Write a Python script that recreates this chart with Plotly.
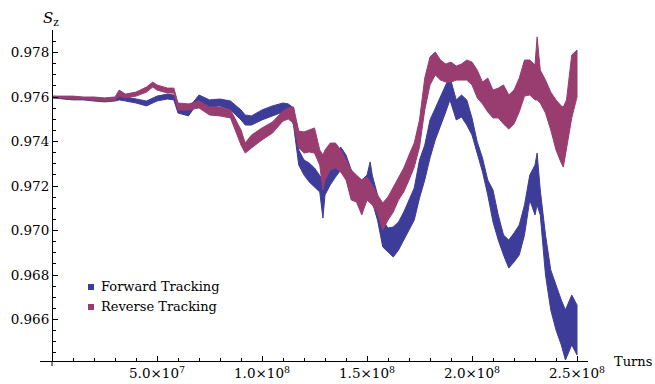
import plotly.graph_objects as go

# Spin component S_z vs. number of turns; each run is drawn as the envelope
# (upper / lower extent) of its rapidly oscillating trace.

fwd_turns_m = [0, 5, 10, 15, 20, 25, 30, 32, 35, 40, 45, 50, 55, 58, 60, 65, 70, 75, 80, 85,
               90, 92, 95, 100, 105, 110, 112.5, 115, 117.5, 120, 122.5, 125, 127.5, 129, 130,
               132.5, 135, 137.5, 140, 142.5, 145, 147.5, 150, 151.5, 152.5, 155, 157.5, 160,
               162.5, 165, 167.5, 170, 172.5, 175, 177.5, 180, 182.5, 185, 187.5, 189.5, 192.5,
               195, 197.5, 200, 202.5, 205, 207.5, 210, 212.5, 215, 217.5, 220, 222.5, 225,
               227.5, 230, 231, 232.5, 235, 237.5, 240, 242.5, 244.5, 247.5, 250]
fwd_hi = [0.97604, 0.97600, 0.97600, 0.97596, 0.97596, 0.97591, 0.97596, 0.97604, 0.97600,
          0.97591, 0.97582, 0.97604, 0.97613, 0.97609, 0.97560, 0.97551, 0.97609, 0.97587,
          0.97591, 0.97582, 0.97542, 0.97519, 0.97515, 0.97542, 0.97560, 0.97573, 0.97569,
          0.97551, 0.97362, 0.97317, 0.97303, 0.97281, 0.97249, 0.97227, 0.97249, 0.97294,
          0.97339, 0.97375, 0.97339, 0.97272, 0.97236, 0.97227, 0.97249, 0.97308, 0.97249,
          0.97160, 0.97047, 0.97011, 0.97016, 0.97038, 0.97083, 0.97137, 0.97191, 0.97317,
          0.97384, 0.97497, 0.97551, 0.97600, 0.97654, 0.97690, 0.97587, 0.97609, 0.97587,
          0.97506, 0.97398, 0.97326, 0.97227, 0.97182, 0.97070, 0.96980, 0.96957, 0.96989,
          0.97025, 0.97115, 0.97249, 0.97294, 0.97348, 0.97182, 0.96980, 0.96823, 0.96755,
          0.96688, 0.96643, 0.96710, 0.96665]
fwd_lo = [0.97596, 0.97591, 0.97587, 0.97587, 0.97582, 0.97578, 0.97582, 0.97587, 0.97582,
          0.97573, 0.97560, 0.97582, 0.97591, 0.97587, 0.97528, 0.97515, 0.97582, 0.97555,
          0.97560, 0.97542, 0.97497, 0.97474, 0.97474, 0.97497, 0.97515, 0.97533, 0.97533,
          0.97474, 0.97294, 0.97249, 0.97218, 0.97196, 0.97173, 0.97056, 0.97160, 0.97205,
          0.97240, 0.97272, 0.97249, 0.97182, 0.97160, 0.97151, 0.97137, 0.97160, 0.97137,
          0.97047, 0.96926, 0.96903, 0.96881, 0.96912, 0.96957, 0.97002, 0.97047, 0.97146,
          0.97227, 0.97326, 0.97407, 0.97474, 0.97533, 0.97587, 0.97497, 0.97510, 0.97474,
          0.97429, 0.97348, 0.97263, 0.97160, 0.97038, 0.96957, 0.96890, 0.96831, 0.96858,
          0.96890, 0.96980, 0.97137, 0.97070, 0.97115, 0.97070, 0.96800, 0.96643, 0.96553,
          0.96486, 0.96418, 0.96486, 0.96441]

rev_turns_m = [0, 5, 10, 15, 20, 25, 30, 32, 35, 40, 45, 48, 50, 55, 58, 60, 65, 70, 75, 80,
               85, 90, 92, 95, 100, 105, 110, 112.5, 115, 117.5, 120, 122.5, 125, 127.5, 129,
               130, 132.5, 135, 137.5, 140, 142.5, 145, 147.5, 150, 152.5, 155, 157.5, 160,
               162.5, 165, 167.5, 170, 172.5, 175, 177.5, 180, 182.5, 185, 187.5, 190, 192.5,
               195, 197.5, 200, 202.5, 205, 207.5, 210, 212.5, 215, 217.5, 220, 222.5, 225,
               227.5, 230, 231, 232.5, 235, 237.5, 240, 242.5, 243.5, 245, 247.5, 250]
rev_hi = [0.97604, 0.97604, 0.97604, 0.97600, 0.97600, 0.97596, 0.97600, 0.97631, 0.97613,
          0.97622, 0.97645, 0.97667, 0.97654, 0.97640, 0.97640, 0.97573, 0.97569, 0.97582,
          0.97555, 0.97555, 0.97542, 0.97452, 0.97393, 0.97429, 0.97461, 0.97488, 0.97537,
          0.97551, 0.97555, 0.97447, 0.97443, 0.97452, 0.97461, 0.97362, 0.97339, 0.97362,
          0.97393, 0.97393, 0.97362, 0.97317, 0.97272, 0.97249, 0.97227, 0.97240, 0.97205,
          0.97160, 0.97124, 0.97151, 0.97196, 0.97236, 0.97281, 0.97339, 0.97393, 0.97497,
          0.97685, 0.97780, 0.97802, 0.97766, 0.97748, 0.97757, 0.97739, 0.97748, 0.97766,
          0.97757, 0.97721, 0.97667, 0.97685, 0.97631, 0.97640, 0.97654, 0.97609, 0.97631,
          0.97685, 0.97766, 0.97766, 0.97744, 0.97870, 0.97721, 0.97676, 0.97622, 0.97587,
          0.97560, 0.97555, 0.97587, 0.97789, 0.97811]
rev_lo = [0.97596, 0.97596, 0.97591, 0.97591, 0.97587, 0.97582, 0.97587, 0.97604, 0.97596,
          0.97604, 0.97622, 0.97645, 0.97631, 0.97618, 0.97618, 0.97542, 0.97542, 0.97551,
          0.97519, 0.97515, 0.97506, 0.97384, 0.97348, 0.97371, 0.97407, 0.97438, 0.97492,
          0.97501, 0.97483, 0.97371, 0.97348, 0.97353, 0.97348, 0.97294, 0.97182, 0.97227,
          0.97272, 0.97281, 0.97263, 0.97227, 0.97137, 0.97128, 0.97070, 0.97137, 0.97115,
          0.97079, 0.97002, 0.97047, 0.97083, 0.97137, 0.97173, 0.97227, 0.97285, 0.97375,
          0.97542, 0.97654, 0.97699, 0.97676, 0.97667, 0.97667, 0.97676, 0.97676, 0.97676,
          0.97654, 0.97596, 0.97569, 0.97533, 0.97506, 0.97506, 0.97479, 0.97456, 0.97479,
          0.97533, 0.97604, 0.97609, 0.97587, 0.97587, 0.97573, 0.97528, 0.97452, 0.97362,
          0.97303, 0.97285, 0.97371, 0.97506, 0.97600]

series_names = ["Forward Tracking", "Reverse Tracking"]
series_colors = ["#3d3d99", "#993d71"]

x_tick_vals_m = [50, 100, 150, 200, 250]
x_tick_text = ["5.0×10<sup>7</sup>", "1.0×10<sup>8</sup>", "1.5×10<sup>8</sup>",
               "2.0×10<sup>8</sup>", "2.5×10<sup>8</sup>"]
y_tick_vals = [0.966, 0.968, 0.970, 0.972, 0.974, 0.976, 0.978]
y_tick_text = ["0.966", "0.968", "0.970", "0.972", "0.974", "0.976", "0.978"]

SERIF = "DejaVu Serif"
TICK_SIZE = 13.5

# plot area geometry (pixels) used to place annotations in paper coordinates
AREA_L, AREA_W, AREA_B, AREA_H = 40, 548, 361, 331


def px_x(px):
    return (px - AREA_L) / AREA_W


def px_y(py):
    return (AREA_B - py) / AREA_H


def band(turns_m, hi, lo, color, name):
    xs = [t * 1e6 for t in turns_m]
    return go.Scatter(
        x=xs + xs[::-1],
        y=hi + lo[::-1],
        fill="toself",
        fillcolor=color,
        mode="lines",
        line=dict(color=color, width=1),
        name=name,
        showlegend=False,
        hoverinfo="skip",
    )


fig = go.Figure()
fig.add_trace(band(fwd_turns_m, fwd_hi, fwd_lo, series_colors[0], series_names[0]))
fig.add_trace(band(rev_turns_m, rev_hi, rev_lo, series_colors[1], series_names[1]))

fig.update_layout(
    width=655,
    height=384,
    margin=dict(l=40, r=67, t=30, b=23, autoexpand=False),
    paper_bgcolor="white",
    plot_bgcolor="white",
    font=dict(family=SERIF, size=TICK_SIZE, color="black"),
    showlegend=False,
)

fig.update_xaxes(
    range=[-5.714e6, 255.24e6],
    automargin=False,
    showgrid=False,
    zeroline=False,
    showline=True,
    linecolor="black",
    linewidth=1,
    ticks="inside",
    ticklen=5,
    tickcolor="black",
    tickvals=[v * 1e6 for v in x_tick_vals_m],
    ticktext=x_tick_text,
    tickfont=dict(family=SERIF, size=TICK_SIZE, color="black"),
    minor=dict(ticks="inside", ticklen=3, tickcolor="black", tick0=0, dtick=1e7),
)

fig.update_yaxes(
    range=[0.964136, 0.979011],
    automargin=False,
    anchor="free",
    position=px_x(52),
    showgrid=False,
    zeroline=False,
    showline=True,
    linecolor="black",
    linewidth=1,
    ticks="inside",
    ticklen=5,
    tickcolor="black",
    tickvals=y_tick_vals,
    ticktext=y_tick_text,
    tickfont=dict(family=SERIF, size=TICK_SIZE, color="black"),
    minor=dict(ticks="inside", ticklen=3, tickcolor="black", tick0=0.964, dtick=0.0005),
)

# short stub of the vertical axis below the horizontal one, at the origin
fig.add_shape(type="line", xref="x", yref="paper", x0=0, x1=0,
              y0=px_y(366), y1=0, line=dict(color="black", width=1))

# axis labels
fig.add_annotation(text="<i>S</i><sub>z</sub>", xref="paper", yref="paper",
                   x=px_x(51), y=px_y(19), xanchor="center", yanchor="middle",
                   showarrow=False, font=dict(family=SERIF, size=15, color="black"))
fig.add_annotation(text="Turns", xref="paper", yref="paper",
                   x=px_x(654), y=px_y(361), xanchor="right", yanchor="middle",
                   showarrow=False, font=dict(family=SERIF, size=13, color="black"))

# legend
legend_rows_py = [287, 307]
for name, color, py in zip(series_names, series_colors, legend_rows_py):
    fig.add_shape(type="rect", xref="paper", yref="paper",
                  x0=px_x(88), x1=px_x(94),
                  y0=px_y(py + 3), y1=px_y(py - 3),
                  fillcolor=color, line=dict(width=0))
    fig.add_annotation(text=name, xref="paper", yref="paper",
                       x=px_x(99), y=px_y(py - 1),
                       xanchor="left", yanchor="middle", showarrow=False,
                       font=dict(family=SERIF, size=13, color="black"))

fig.write_html("out.html")
